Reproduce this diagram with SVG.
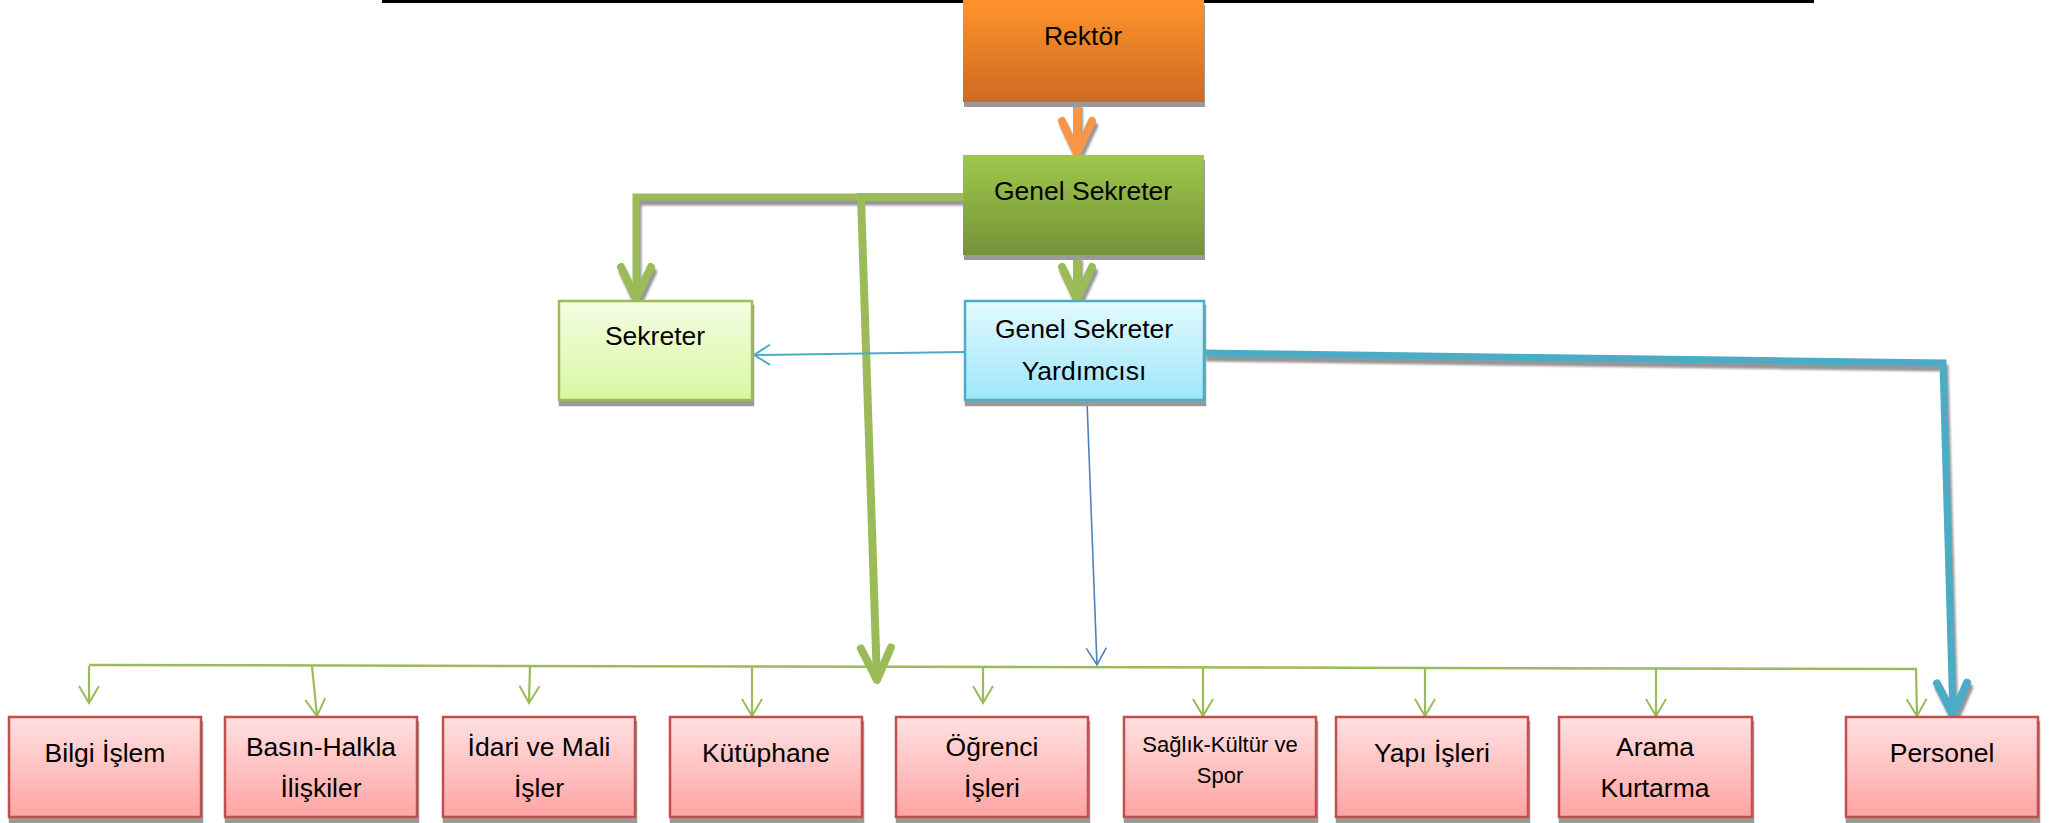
<svg xmlns="http://www.w3.org/2000/svg" width="2063" height="823" viewBox="0 0 2063 823">
<style>
text{font-family:"Liberation Sans",Arial,sans-serif;font-size:26.5px;fill:#000;text-anchor:middle}
.small{font-size:22px}
.red{fill:url(#gRed);stroke:#C0504D;stroke-width:2.5}
.thin{fill:none;stroke:#9BBB59;stroke-width:2.2;marker-end:url(#mThinGreen)}
.thickG{fill:none;stroke:#9BBB59;stroke-width:7;stroke-linejoin:miter}
</style>
<defs>
<linearGradient id="gOrange" x1="0" y1="0" x2="0" y2="1"><stop offset="0" stop-color="#FF932C"/><stop offset="1" stop-color="#CD6A21"/></linearGradient>
<linearGradient id="gGreen" x1="0" y1="0" x2="0" y2="1"><stop offset="0" stop-color="#9FC84A"/><stop offset="1" stop-color="#759339"/></linearGradient>
<linearGradient id="gLight" x1="0" y1="0" x2="0" y2="1"><stop offset="0" stop-color="#F4FDE4"/><stop offset="1" stop-color="#D8F7A0"/></linearGradient>
<linearGradient id="gBlue" x1="0" y1="0" x2="0" y2="1"><stop offset="0" stop-color="#E3F9FF"/><stop offset="1" stop-color="#9EE6FA"/></linearGradient>
<linearGradient id="gRed" x1="0" y1="0" x2="0" y2="1"><stop offset="0" stop-color="#FFE1E1"/><stop offset="1" stop-color="#FFA4A4"/></linearGradient>
<filter id="shBox" x="-5%" y="-5%" width="115%" height="125%"><feDropShadow dx="1" dy="5" stdDeviation="0.4" flood-color="#9A9A9A" flood-opacity="1"/></filter>
<filter id="shLine" x="-10%" y="-10%" width="130%" height="130%"><feDropShadow dx="2" dy="5" stdDeviation="0.8" flood-color="#8A8A8A" flood-opacity="0.9"/></filter>
<marker id="mThinGreen" markerUnits="userSpaceOnUse" orient="auto" refX="0" refY="0" markerWidth="40" markerHeight="40" viewBox="-20 -20 40 40" overflow="visible"><path d="M-17,-10 L0,0 L-17,10" fill="none" stroke="#9BBB59" stroke-width="2"/></marker>
<marker id="mThinAqua" markerUnits="userSpaceOnUse" orient="auto" refX="0" refY="0" markerWidth="40" markerHeight="40" viewBox="-20 -20 40 40" overflow="visible"><path d="M-16,-10 L0,0 L-16,10" fill="none" stroke="#4BACC6" stroke-width="2"/></marker>
<marker id="mThinBlue" markerUnits="userSpaceOnUse" orient="auto" refX="0" refY="0" markerWidth="40" markerHeight="40" viewBox="-20 -20 40 40" overflow="visible"><path d="M-17,-10 L0,0 L-17,10" fill="none" stroke="#4F81BD" stroke-width="1.6"/></marker>
<marker id="mThickOrange" markerUnits="userSpaceOnUse" orient="auto" refX="0" refY="0" markerWidth="80" markerHeight="80" viewBox="-40 -40 80 80" overflow="visible"><path d="M-34,-15 L-2,0 L-34,15" fill="none" stroke="#F79646" stroke-width="8" stroke-linecap="round" stroke-linejoin="round"/></marker>
<marker id="mThickGreen" markerUnits="userSpaceOnUse" orient="auto" refX="0" refY="0" markerWidth="80" markerHeight="80" viewBox="-40 -40 80 80" overflow="visible"><path d="M-34,-15 L-2,0 L-34,15" fill="none" stroke="#9BBB59" stroke-width="8" stroke-linecap="round" stroke-linejoin="round"/></marker>
<marker id="mThickAqua" markerUnits="userSpaceOnUse" orient="auto" refX="0" refY="0" markerWidth="80" markerHeight="80" viewBox="-40 -40 80 80" overflow="visible"><path d="M-34,-15 L-2,0 L-34,15" fill="none" stroke="#4BACC6" stroke-width="8" stroke-linecap="round" stroke-linejoin="round"/></marker>
</defs>
<rect width="2063" height="823" fill="#FFFFFF"/>
<line x1="382" y1="1.5" x2="1814" y2="1.5" stroke="#000" stroke-width="3"/>

<g id="connectors">
<g filter="url(#shLine)">
<line x1="1077" y1="102" x2="1077" y2="155" stroke="#F79646" stroke-width="8" marker-end="url(#mThickOrange)"/>
<path class="thickG" d="M963,197 H636 V301" marker-end="url(#mThickGreen)"/>
<line x1="1077" y1="255" x2="1077" y2="301" stroke="#9BBB59" stroke-width="8" marker-end="url(#mThickGreen)"/>
<path d="M1204,353 L1943,363 L1953,717" fill="none" stroke="#4BACC6" stroke-width="7" marker-end="url(#mThickAqua)"/>
</g>
<path class="thickG" d="M963,197 H861 L877,682" style="stroke-width:8" marker-end="url(#mThickGreen)"/>
<line x1="964" y1="352" x2="754" y2="355" stroke="#4BACC6" stroke-width="2" marker-end="url(#mThinAqua)"/>
<line x1="1087" y1="401" x2="1097" y2="665" stroke="#4F81BD" stroke-width="1.6" marker-end="url(#mThinBlue)"/>
<line x1="89" y1="665" x2="1917" y2="669" stroke="#9BBB59" stroke-width="2.5"/>
<line class="thin" x1="89" y1="666" x2="89" y2="703"/>
<line class="thin" x1="312" y1="666" x2="317" y2="716"/>
<line class="thin" x1="530" y1="666" x2="529" y2="703"/>
<line class="thin" x1="752" y1="667" x2="752" y2="716"/>
<line class="thin" x1="983" y1="667" x2="983" y2="703"/>
<line class="thin" x1="1203" y1="667" x2="1203" y2="716"/>
<line class="thin" x1="1425" y1="668" x2="1425" y2="716"/>
<line class="thin" x1="1656" y1="668" x2="1656" y2="716"/>
<line class="thin" x1="1916" y1="669" x2="1917" y2="716"/>
</g>

<g id="rektor"><rect x="963" y="0" width="241" height="102" fill="url(#gOrange)" filter="url(#shBox)"/><text x="1083" y="45">Rektör</text></g>
<g id="genel-sekreter"><rect x="963" y="155" width="241" height="100" fill="url(#gGreen)" filter="url(#shBox)"/><text x="1083" y="200">Genel Sekreter</text></g>
<g id="sekreter"><rect x="559" y="301" width="193" height="99" fill="url(#gLight)" stroke="#9BBB59" stroke-width="2.5" filter="url(#shBox)"/><text x="655" y="345">Sekreter</text></g>
<g id="gs-yardimcisi"><rect x="965" y="301" width="239" height="99" fill="url(#gBlue)" stroke="#4BACC6" stroke-width="2.5" filter="url(#shBox)"/><text x="1084" y="338">Genel Sekreter</text><text x="1084" y="380">Yardımcısı</text></g>

<g id="bilgi-islem"><rect class="red" x="9" y="717" width="192" height="100" filter="url(#shBox)"/><text x="105" y="762">Bilgi İşlem</text></g>
<g id="basin"><rect class="red" x="225" y="717" width="192" height="100" filter="url(#shBox)"/><text x="321" y="756">Basın-Halkla</text><text x="321" y="797">İlişkiler</text></g>
<g id="idari"><rect class="red" x="443" y="717" width="192" height="100" filter="url(#shBox)"/><text x="539" y="756">İdari ve Mali</text><text x="539" y="797">İşler</text></g>
<g id="kutuphane"><rect class="red" x="670" y="717" width="192" height="100" filter="url(#shBox)"/><text x="766" y="762">Kütüphane</text></g>
<g id="ogrenci"><rect class="red" x="896" y="717" width="192" height="100" filter="url(#shBox)"/><text x="992" y="756">Öğrenci</text><text x="992" y="797">İşleri</text></g>
<g id="saglik"><rect class="red" x="1124" y="717" width="192" height="100" filter="url(#shBox)"/><text class="small" x="1220" y="752">Sağlık-Kültür ve</text><text class="small" x="1220" y="783">Spor</text></g>
<g id="yapi"><rect class="red" x="1336" y="717" width="192" height="100" filter="url(#shBox)"/><text x="1432" y="762">Yapı İşleri</text></g>
<g id="arama"><rect class="red" x="1559" y="717" width="193" height="100" filter="url(#shBox)"/><text x="1655" y="756">Arama</text><text x="1655" y="797">Kurtarma</text></g>
<g id="personel"><rect class="red" x="1846" y="717" width="192" height="100" filter="url(#shBox)"/><text x="1942" y="762">Personel</text></g>
</svg>
